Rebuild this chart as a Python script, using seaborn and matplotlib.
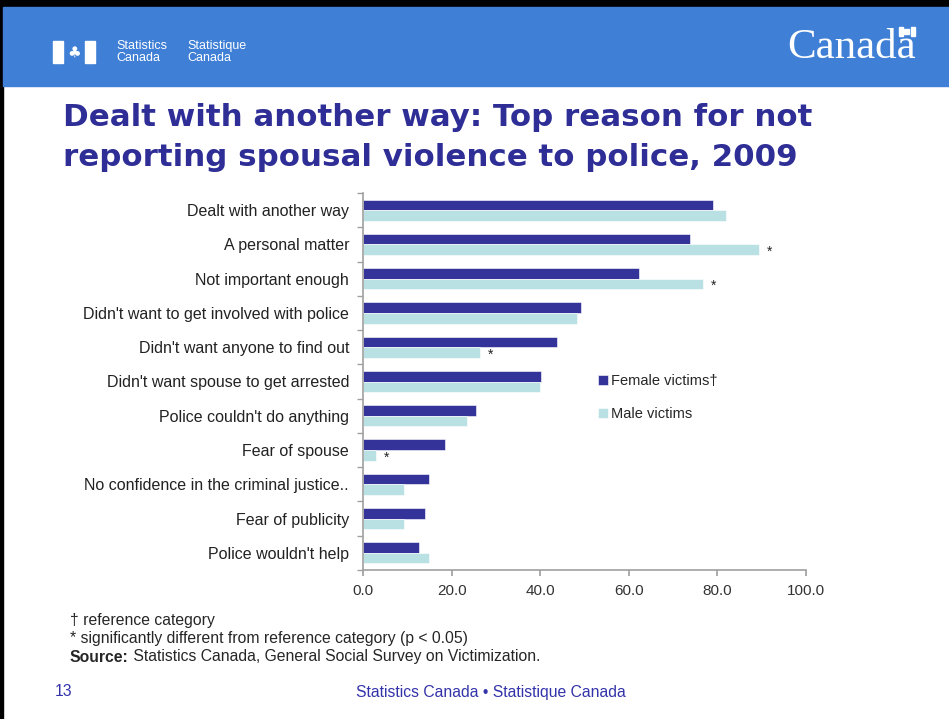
import matplotlib
matplotlib.use("Agg")
import matplotlib.pyplot as plt
from matplotlib.patches import Rectangle
import seaborn as sns
import pandas as pd

categories = [
    "Dealt with another way",
    "A personal matter",
    "Not important enough",
    "Didn't want to get involved with police",
    "Didn't want anyone to find out",
    "Didn't want spouse to get arrested",
    "Police couldn't do anything",
    "Fear of spouse",
    "No confidence in the criminal justice..",
    "Fear of publicity",
    "Police wouldn't help",
]
female = [78.9, 73.8, 62.3, 49.3, 43.9, 40.2, 25.6, 18.5, 15.0, 13.9, 12.7]
male = [81.9, 89.3, 76.8, 48.2, 26.3, 40.0, 23.4, 3.0, 9.3, 9.3, 15.0]
male_signif = [False, True, True, False, True, False, False, True, False, False, False]
series_names = ["Female victims\u2020", "Male victims"]
xticks = [0, 20, 40, 60, 80, 100]

df = pd.DataFrame({
    "reason": categories * 2,
    "value": female + male,
    "group": [series_names[0]] * len(categories) + [series_names[1]] * len(categories),
})

sns.set_theme(style="white")
plt.rcParams["font.family"] = ["Liberation Sans", "DejaVu Sans"]

W, H = 949, 719
fig = plt.figure(figsize=(W / 100, H / 100), dpi=100)
fig.patch.set_facecolor("white")

# Header band
hdr = fig.add_axes([0, 0, 1, 1], zorder=-5)
hdr.set_xlim(0, W)
hdr.set_ylim(H, 0)
hdr.axis("off")
hdr.add_patch(Rectangle((0, 0), W, 7, color="black"))
hdr.add_patch(Rectangle((0, 0), 3, H, color="black"))
hdr.add_patch(Rectangle((3, 7), W - 3, 79, color="#3F7FD6"))
# FIP logo
hdr.add_patch(Rectangle((53, 41), 10, 22, color="white"))
hdr.add_patch(Rectangle((85, 41), 10, 22, color="white"))
hdr.text(74, 52, "\u2663", color="white", fontsize=11, ha="center", va="center",
         family="DejaVu Sans")
hdr.text(116, 52, "Statistics\nCanada", color="white", fontsize=9, va="center",
         linespacing=1.0)
hdr.text(187, 52, "Statistique\nCanada", color="white", fontsize=9, va="center",
         linespacing=1.0)
hdr.text(787, 58, "Canada", color="white", fontsize=31, va="baseline",
         family="Liberation Serif")
hdr.add_patch(Rectangle((899, 27), 4, 9, color="white"))
hdr.add_patch(Rectangle((911, 27), 4, 9, color="white"))
hdr.add_patch(Rectangle((904.5, 29), 5, 5, color="white"))

# Title
fig.text(63 / W, 1 - 118 / H, "Dealt with another way: Top reason for not",
         fontsize=22.2, fontweight="bold", color="#2E2E96", va="center",
         family="DejaVu Sans")
fig.text(63 / W, 1 - 157 / H, "reporting spousal violence to police, 2009",
         fontsize=22.2, fontweight="bold", color="#2E2E96", va="center",
         family="DejaVu Sans")

# Chart
ax = fig.add_axes([363 / W, 1 - 570 / H, 443 / W, 377 / H])
palette = {series_names[0]: "#333399", series_names[1]: "#B9E1E4"}
sns.barplot(data=df, y="reason", x="value", hue="group", orient="h",
            palette=palette, width=0.62, ax=ax, edgecolor="white",
            linewidth=0.4, saturation=1, legend=True)
ax.set_xlim(0, 100)
ax.set_xticks(xticks)
ax.set_xticklabels([f"{v:.1f}" for v in xticks], fontsize=11, color="#333333")
ax.set_xlabel("")
ax.set_ylabel("")
ax.tick_params(axis="y", length=0, labelsize=11.5, pad=10, labelcolor="#222222")
ax.tick_params(axis="x", length=4, color="#A0A0A0", pad=6, bottom=True)
ax.set_yticks(range(len(categories)), minor=False)
ax.set_yticks([i - 0.5 for i in range(len(categories) + 1)], minor=True)
ax.tick_params(axis="y", which="minor", length=4, color="#A0A0A0", left=True)
for s in ["top", "right"]:
    ax.spines[s].set_visible(False)
for s in ["left", "bottom"]:
    ax.spines[s].set_color("#A0A0A0")
    ax.spines[s].set_linewidth(1.2)
ax.grid(False)

for i, (v, sig) in enumerate(zip(male, male_signif)):
    if sig:
        ax.text(v + 1.8, i + 0.22, "*", fontsize=10, ha="left", va="center",
                color="#222222")

handles, labels = ax.get_legend_handles_labels()
ax.legend(handles, labels, frameon=False, fontsize=10.5,
          loc="upper left", bbox_to_anchor=(585 / W, 1 - 361 / H),
          bbox_transform=fig.transFigure, handlelength=0.7, handleheight=0.7,
          handletextpad=0.2, labelspacing=1.3)

# Footer
fs = 11.3
fig.text(70 / W, 1 - 620 / H, "\u2020 reference category", fontsize=fs, va="center")
fig.text(70 / W, 1 - 638 / H, "* significantly different from reference category (p < 0.05)",
         fontsize=fs, va="center")
t1 = fig.text(70 / W, 1 - 657 / H, "Source:", fontsize=fs, fontweight="bold", va="center")
hdr.annotate(" Statistics Canada, General Social Survey on Victimization.",
             xy=(1, 0.5), xycoords=t1, va="center", ha="left", fontsize=fs)
fig.text(55 / W, 1 - 692 / H, "13", fontsize=fs, color="#3333AA", va="center")
fig.text(491 / W, 1 - 692 / H, "Statistics Canada \u2022 Statistique Canada",
         fontsize=fs, color="#3333AA", va="center", ha="center")

fig.savefig("out.png", dpi=100)
